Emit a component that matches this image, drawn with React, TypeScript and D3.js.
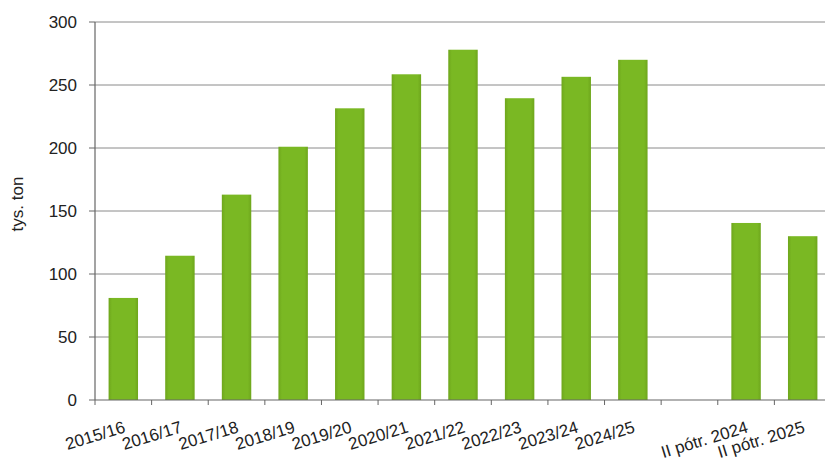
import React from "react";
import * as d3 from "d3";

const categories = [
  "2015/16", "2016/17", "2017/18", "2018/19", "2019/20", "2020/21",
  "2021/22", "2022/23", "2023/24", "2024/25", "", "II pótr. 2024", "II pótr. 2025",
];
const values: (number | null)[] = [81, 114.5, 163, 201, 231.5, 258.5, 278, 239.5, 256.5, 270, null, 140.5, 130];
const yTicks = [0, 50, 100, 150, 200, 250, 300];
const yLabel = "tys. ton";

const W = 825, H = 459;
const left = 95, right = 831, top = 22, bottom = 400;
const font = "'Liberation Sans', Arial, sans-serif";

export default function App() {
  const keys = categories.map((c, i) => i + ":" + c);
  const x = d3.scaleBand<string>()
    .domain(keys)
    .range([left, right])
    .paddingInner(0.48)
    .paddingOuter(0.24);
  const y = d3.scaleLinear().domain([0, 300]).range([bottom, top]);
  const step = x.step();
  return (
    <svg width={W} height={H} style={{ position: "absolute", left: 0, top: 0, background: "#fff" }}>
      <defs>
        <linearGradient id="barg" x1="0" x2="1" y1="0" y2="0">
          <stop offset="0" stopColor="#6ea61c" />
          <stop offset="0.12" stopColor="#7ab823" />
          <stop offset="0.88" stopColor="#7ab823" />
          <stop offset="1" stopColor="#6ea61c" />
        </linearGradient>
      </defs>
      {yTicks.map((t) => (
        <g key={t}>
          {t > 0 && <line x1={left} x2={W} y1={y(t)} y2={y(t)} stroke="#8a8a8a" strokeWidth={1} />}
          <line x1={left - 6} x2={left} y1={y(t)} y2={y(t)} stroke="#666" strokeWidth={1} />
          <text x={77} y={y(t)} dy="0.35em" textAnchor="end" fontFamily={font} fontSize={17} fill="#222">{t}</text>
        </g>
      ))}
      {values.map((v, i) =>
        v == null ? null : (
          <rect key={i} x={x(keys[i])!} width={x.bandwidth()} y={y(v)} height={y(0) - y(v)} fill="url(#barg)" />
        )
      )}
      <line x1={left} x2={left} y1={top} y2={bottom} stroke="#666" strokeWidth={1.2} />
      <line x1={left} x2={W} y1={bottom} y2={bottom} stroke="#666" strokeWidth={1.2} />
      {d3.range(categories.length + 1).map((k) => (
        <line key={k} x1={left + k * step} x2={left + k * step} y1={bottom} y2={bottom + 5} stroke="#666" strokeWidth={1} />
      ))}
      {categories.map((c, i) => {
        const cx = x(keys[i])! + x.bandwidth() / 2 + 3;
        return (
          <text key={i} transform={`translate(${cx},432) rotate(-17)`} textAnchor="end" fontFamily={font} fontSize={17} fill="#222">{c}</text>
        );
      })}
      <text transform={`translate(23,204) rotate(-90)`} textAnchor="middle" fontFamily={font} fontSize={17} fill="#222">{yLabel}</text>
    </svg>
  );
}
